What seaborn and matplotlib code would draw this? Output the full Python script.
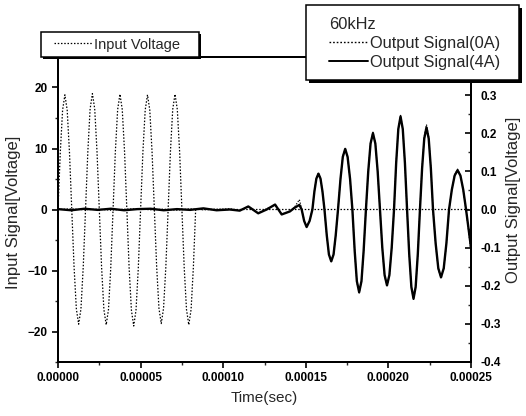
"""
Input voltage burst (60 kHz) and received output signal, dual y-axis time plot.
"""

import numpy as np
import pandas as pd
import matplotlib

matplotlib.use("Agg")
import matplotlib.pyplot as plt
from matplotlib.lines import Line2D
from matplotlib.patches import Rectangle
from matplotlib.ticker import FixedLocator, FormatStrFormatter, MultipleLocator
import seaborn as sns

# ---- data (time in microseconds) ----
input_time_us = [
    0, 1.39, 2.78, 4.17, 5.56, 6.94, 8.33, 9.72, 11.11, 12.5, 13.89, 15.28,
    16.67, 18.06, 19.44, 20.83, 22.22, 23.61, 25.0, 26.39, 27.78, 29.17, 30.56, 31.94,
    33.33, 34.72, 36.11, 37.5, 38.89, 40.28, 41.67, 43.06, 44.44, 45.83, 47.22, 48.61,
    50.0, 51.39, 52.78, 54.17, 55.56, 56.94, 58.33, 59.72, 61.11, 62.5, 63.89, 65.28,
    66.67, 68.06, 69.44, 70.83, 72.22, 73.61, 75.0, 76.39, 77.78, 79.17, 80.56, 81.94,
    83.33, 250.0,
]
input_volt = [
    0, 9.4, 16.3, 18.8, 16.3, 9.4, 0, -9.4, -16.3, -18.8, -16.3, -9.4,
    0, 9.5, 16.5, 19.0, 16.5, 9.5, 0, -9.5, -16.4, -18.9, -16.4, -9.5,
    0, 9.5, 16.4, 18.9, 16.4, 9.5, 0, -9.6, -16.5, -19.1, -16.5, -9.6,
    0, 9.4, 16.3, 18.8, 16.3, 9.4, 0, -9.4, -16.2, -18.7, -16.2, -9.4,
    0, 9.5, 16.4, 18.9, 16.4, 9.5, 0, -9.5, -16.4, -18.9, -16.4, -9.5,
    0, 0,
]

output_time_us = [
    0, 8, 16, 24, 32, 40, 48, 56, 64, 72, 80, 88, 96, 104, 110,
    115.2, 121.2, 126.3, 131.4, 135.4, 140.4, 143.0, 146.1, 147.5, 149.0, 150.5, 152.3,
    154.0, 155.2, 156.4, 157.65, 158.9, 160.1, 161.3,
    162.7, 164.0, 165.4, 166.8, 168.1, 169.5,
    171.0, 172.4, 173.85, 175.3, 176.8, 178.2,
    179.6, 180.9, 182.3, 183.7, 185.0, 186.4,
    187.8, 189.2, 190.65, 192.1, 193.5, 194.9,
    196.3, 197.7, 199.15, 200.6, 202.0, 203.4,
    204.7, 206.0, 207.35, 208.7, 210.0, 211.3,
    212.6, 213.9, 215.2, 216.5, 217.8, 219.1,
    220.4, 221.7, 223.05, 224.4, 225.7, 227.0,
    228.6, 230.2, 231.85, 233.5, 235.1, 236.7,
    238.4, 240.1, 241.85, 243.6, 245.3, 247.0,
    248.5, 250.0,
]
output_4a = [
    0.001, -0.002, 0.002, -0.001, 0.002, -0.002, 0.001, 0.002, -0.002, 0.001, -0.001, 0.003, -0.002, 0.000, -0.003,
    0.008, -0.010, 0.000, 0.013, -0.013, -0.005, 0.004, 0.012, 0.000, -0.030, -0.046, -0.030,
    0.000, 0.047, 0.081, 0.094, 0.081, 0.047, 0.000,
    -0.068, -0.118, -0.136, -0.118, -0.068, 0.000,
    0.080, 0.138, 0.159, 0.138, 0.080, 0.000,
    -0.109, -0.188, -0.217, -0.188, -0.109, 0.000,
    0.100, 0.173, 0.200, 0.173, 0.100, 0.000,
    -0.100, -0.172, -0.199, -0.172, -0.100, 0.000,
    0.122, 0.211, 0.244, 0.211, 0.122, 0.000,
    -0.117, -0.203, -0.234, -0.203, -0.117, 0.000,
    0.108, 0.186, 0.215, 0.186, 0.108, 0.000,
    -0.089, -0.154, -0.178, -0.154, -0.089, 0.000,
    0.052, 0.089, 0.103, 0.089, 0.052, 0.000,
    -0.050, -0.100,
]
output_0a = [
    0.000, 0.002, -0.001, 0.001, -0.002, 0.001, 0.002, -0.001, 0.001, -0.002, 0.002, -0.001, 0.001, 0.002, -0.002,
    0.007, -0.009, 0.002, 0.012, -0.012, -0.004, 0.005, 0.026, 0.002, -0.028, -0.044, -0.029,
    0.001, 0.048, 0.083, 0.096, 0.082, 0.046, -0.001,
    -0.070, -0.120, -0.138, -0.119, -0.069, 0.001,
    0.081, 0.140, 0.161, 0.139, 0.079, -0.001,
    -0.110, -0.190, -0.219, -0.189, -0.110, 0.001,
    0.101, 0.175, 0.203, 0.174, 0.099, -0.001,
    -0.101, -0.174, -0.201, -0.173, -0.101, 0.001,
    0.123, 0.213, 0.247, 0.212, 0.121, -0.001,
    -0.118, -0.205, -0.236, -0.204, -0.118, 0.001,
    0.111, 0.192, 0.223, 0.190, 0.109, -0.001,
    -0.091, -0.156, -0.181, -0.156, -0.091, 0.000,
    0.053, 0.091, 0.106, 0.090, 0.051, -0.002,
    -0.056, -0.112,
]

right_ticks = [-0.4, -0.3, -0.2, -0.1, 0.0, 0.1, 0.2, 0.3]

input_df = pd.DataFrame({"time": np.array(input_time_us) * 1e-6, "volt": input_volt})
output_df = pd.DataFrame(
    {
        "time": np.array(output_time_us) * 1e-6,
        "out_0a": output_0a,
        "out_4a": output_4a,
    }
)

W, H = 526, 416


def px_rect(x0, y0, x1, y1, **kw):
    """Rectangle given in picture pixels (origin top-left), drawn in figure coords."""
    return Rectangle((x0 / W, 1 - y1 / H), (x1 - x0) / W, (y1 - y0) / H,
                     transform=fig.transFigure, **kw)


# ---- style ----
sns.set_style("ticks")
plt.rcParams["font.family"] = ["Liberation Sans", "DejaVu Sans"]

fig = plt.figure(figsize=(W / 100, H / 100), dpi=100)
fig.subplots_adjust(left=58 / W, right=471 / W, bottom=1 - 362 / H, top=1 - 57 / H)
ax = fig.add_subplot(111)
ax2 = ax.twinx()

dot = (0, (1.2, 1.4))

sns.lineplot(data=input_df, x="time", y="volt", ax=ax, sort=False, color="black",
             linewidth=0.9, linestyle=dot, estimator=None)
sns.lineplot(data=output_df, x="time", y="out_4a", ax=ax2, sort=False, color="black",
             linewidth=1.7, estimator=None)
sns.lineplot(data=output_df, x="time", y="out_0a", ax=ax2, sort=False, color="black",
             linewidth=0.8, linestyle=dot, estimator=None)

# ---- axes ----
ax.set_xlim(0, 0.00025)
ax.set_ylim(-25, 25)
ax2.set_ylim(-0.4, 0.4)

ax.xaxis.set_major_locator(MultipleLocator(0.00005))
ax.xaxis.set_minor_locator(MultipleLocator(0.000025))
ax.xaxis.set_major_formatter(FormatStrFormatter("%.5f"))
ax.yaxis.set_major_locator(MultipleLocator(10))
ax.yaxis.set_minor_locator(MultipleLocator(5))
ax2.yaxis.set_major_locator(FixedLocator(right_ticks))
ax2.yaxis.set_minor_locator(MultipleLocator(0.05))
ax2.yaxis.set_major_formatter(FormatStrFormatter("%.1f"))

ax.set_xlabel("Time(sec)", fontsize=11, labelpad=5)
ax.set_ylabel("Input Signal[Voltage]", fontsize=12)
ax2.set_ylabel("Output Signal[Voltage]", fontsize=12)
ax.yaxis.set_label_coords(-0.09, 0.49)
ax2.yaxis.set_label_coords(1.085, 0.53)

for a in (ax, ax2):
    for side in ("left", "right", "top", "bottom"):
        a.spines[side].set_visible(True)
        a.spines[side].set_linewidth(1.4)
        a.spines[side].set_color("black")

ax.tick_params(axis="both", which="major", direction="out", length=4, width=1.2,
               labelsize=8.5, colors="black")
ax.tick_params(axis="both", which="minor", direction="out", length=2.5, width=1.0)
ax2.tick_params(axis="y", which="major", direction="in", length=4, width=1.2,
                labelsize=8.5, colors="black", pad=7)
ax2.tick_params(axis="y", which="minor", direction="in", length=2.5, width=1.0)
for lbl in ax.get_xticklabels() + ax.get_yticklabels() + ax2.get_yticklabels():
    lbl.set_fontweight("bold")

# ---- legend boxes (frame + drop shadow) ----
for (x0, y0, x1, y1, off) in [(41, 32, 199, 57, 2), (306, 5, 519, 80, 3)]:
    fig.add_artist(px_rect(x0 + off, y0 + off, x1 + off, y1 + off,
                           facecolor="black", edgecolor="none", zorder=6))
    fig.add_artist(px_rect(x0, y0, x1, y1, facecolor="white", edgecolor="black",
                           linewidth=1.1, zorder=7))

# ---- legends ----
h_in = Line2D([], [], color="black", linewidth=0.9, linestyle=dot)
h_0a = Line2D([], [], color="black", linewidth=1.0, linestyle=dot)
h_4a = Line2D([], [], color="black", linewidth=1.4)

leg1 = fig.legend(
    handles=[h_in], labels=["Input Voltage"],
    loc="center left", bbox_to_anchor=(54 / W, 1 - 44.5 / H),
    bbox_transform=fig.transFigure, borderaxespad=0, borderpad=0,
    frameon=False, prop={"family": "Liberation Sans", "size": 10.5},
    handlelength=2.6, handletextpad=0.15,
)
leg1.set_zorder(8)

leg2 = fig.legend(
    handles=[h_0a, h_4a], labels=["Output Signal(0A)", "Output Signal(4A)"],
    title="60kHz", alignment="left",
    loc="upper left", bbox_to_anchor=(329 / W, 1 - 17 / H),
    bbox_transform=fig.transFigure, borderaxespad=0, borderpad=0,
    frameon=False, prop={"family": "Liberation Sans", "size": 11.8},
    title_fontproperties={"family": "Liberation Sans", "size": 11.8},
    handlelength=2.4, handletextpad=0.1, labelspacing=0.24,
)
leg2.set_zorder(8)

fig.savefig("out.png", dpi=100, facecolor="white")
plt.close(fig)
